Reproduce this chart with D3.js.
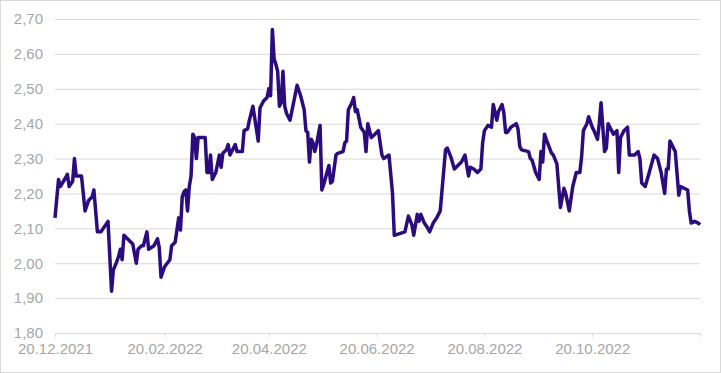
<!DOCTYPE html>
<html>
<head>
<meta charset="utf-8">
<script src="https://cdn.jsdelivr.net/npm/d3@7"></script>
<style>
  body { margin: 0; background: #fff; }
  svg text { font-family: 'Liberation Sans', Arial, sans-serif; font-size: 15px; fill: #a6a6a6; }
</style>
</head>
<body>
<svg class="linechart" width="721" height="373"></svg>
<script>
// data
var dates = [
  '2021-12-20', '2021-12-22', '2021-12-23', '2021-12-26', '2021-12-27', '2021-12-28', '2021-12-30', '2021-12-31',
  '2022-01-01', '2022-01-04', '2022-01-06', '2022-01-08', '2022-01-10', '2022-01-11', '2022-01-13', '2022-01-15',
  '2022-01-19', '2022-01-21', '2022-01-22', '2022-01-24', '2022-01-25', '2022-01-26', '2022-01-27', '2022-01-28',
  '2022-01-30', '2022-02-01', '2022-02-02', '2022-02-04', '2022-02-05', '2022-02-07', '2022-02-08', '2022-02-09',
  '2022-02-10', '2022-02-11', '2022-02-14', '2022-02-16', '2022-02-17', '2022-02-18', '2022-02-20', '2022-02-23',
  '2022-02-24', '2022-02-26', '2022-02-28', '2022-03-01', '2022-03-02', '2022-03-03', '2022-03-04', '2022-03-05',
  '2022-03-06', '2022-03-07', '2022-03-08', '2022-03-09', '2022-03-10', '2022-03-11', '2022-03-15', '2022-03-16',
  '2022-03-17', '2022-03-18', '2022-03-19', '2022-03-21', '2022-03-23', '2022-03-24', '2022-03-25', '2022-03-27',
  '2022-03-28', '2022-03-29', '2022-03-31', '2022-04-01', '2022-04-02', '2022-04-05', '2022-04-06', '2022-04-08',
  '2022-04-09', '2022-04-11', '2022-04-14', '2022-04-15', '2022-04-16', '2022-04-17', '2022-04-19', '2022-04-20',
  '2022-04-21', '2022-04-22', '2022-04-23', '2022-04-24', '2022-04-25', '2022-04-26', '2022-04-27', '2022-04-28',
  '2022-04-29', '2022-04-30', '2022-05-02', '2022-05-06', '2022-05-08', '2022-05-10', '2022-05-11', '2022-05-12',
  '2022-05-13', '2022-05-14', '2022-05-15', '2022-05-16', '2022-05-17', '2022-05-19', '2022-05-20', '2022-05-21',
  '2022-05-24', '2022-05-25', '2022-05-26', '2022-05-28', '2022-05-29', '2022-06-01', '2022-06-02', '2022-06-03',
  '2022-06-04', '2022-06-06', '2022-06-07', '2022-06-08', '2022-06-09', '2022-06-11', '2022-06-13', '2022-06-14',
  '2022-06-15', '2022-06-17', '2022-06-19', '2022-06-21', '2022-06-23', '2022-06-24', '2022-06-27', '2022-06-29',
  '2022-06-30', '2022-07-03', '2022-07-06', '2022-07-08', '2022-07-10', '2022-07-11', '2022-07-13', '2022-07-14',
  '2022-07-15', '2022-07-17', '2022-07-19', '2022-07-20', '2022-07-22', '2022-07-24', '2022-07-26', '2022-07-29',
  '2022-07-30', '2022-08-01', '2022-08-03', '2022-08-05', '2022-08-07', '2022-08-09', '2022-08-11', '2022-08-12',
  '2022-08-14', '2022-08-16', '2022-08-18', '2022-08-19', '2022-08-20', '2022-08-22', '2022-08-24', '2022-08-25',
  '2022-08-27', '2022-08-28', '2022-08-30', '2022-08-31', '2022-09-01', '2022-09-02', '2022-09-04', '2022-09-07',
  '2022-09-08', '2022-09-09', '2022-09-10', '2022-09-14', '2022-09-15', '2022-09-16', '2022-09-18', '2022-09-20',
  '2022-09-21', '2022-09-22', '2022-09-23', '2022-09-24', '2022-09-27', '2022-09-28', '2022-09-30', '2022-10-02',
  '2022-10-04', '2022-10-05', '2022-10-07', '2022-10-09', '2022-10-11', '2022-10-13', '2022-10-14', '2022-10-15',
  '2022-10-17', '2022-10-18', '2022-10-20', '2022-10-21', '2022-10-23', '2022-10-24', '2022-10-25', '2022-10-26',
  '2022-10-27', '2022-10-28', '2022-10-29', '2022-10-31', '2022-11-01', '2022-11-03', '2022-11-04', '2022-11-05',
  '2022-11-07', '2022-11-09', '2022-11-10', '2022-11-13', '2022-11-15', '2022-11-16', '2022-11-17', '2022-11-19',
  '2022-11-21', '2022-11-24', '2022-11-26', '2022-11-28', '2022-11-30', '2022-12-01', '2022-12-02', '2022-12-03',
  '2022-12-05', '2022-12-06', '2022-12-08', '2022-12-09', '2022-12-11', '2022-12-13', '2022-12-14', '2022-12-15',
  '2022-12-17', '2022-12-19', '2022-12-20'
]

var values = [
  2.13, 2.24, 2.22, 2.245, 2.255, 2.22, 2.235, 2.30,
  2.25, 2.25, 2.15, 2.18, 2.19, 2.21, 2.09, 2.09,
  2.12, 1.92, 1.98, 2.005, 2.02, 2.04, 2.01, 2.08,
  2.07, 2.06, 2.055, 2.00, 2.04, 2.05, 2.05, 2.07,
  2.09, 2.04, 2.05, 2.07, 2.045, 1.96, 1.99, 2.01,
  2.05, 2.06, 2.13, 2.095, 2.19, 2.205, 2.21, 2.15,
  2.22, 2.25, 2.37, 2.36, 2.30, 2.36, 2.36, 2.26,
  2.26, 2.31, 2.24, 2.26, 2.31, 2.275, 2.315, 2.325,
  2.34, 2.31, 2.33, 2.34, 2.32, 2.32, 2.38, 2.385,
  2.41, 2.45, 2.35, 2.445, 2.455, 2.465, 2.475, 2.50,
  2.48, 2.67, 2.585, 2.57, 2.55, 2.45, 2.46, 2.55,
  2.45, 2.43, 2.41, 2.51, 2.48, 2.44, 2.38, 2.375,
  2.29, 2.355, 2.345, 2.32, 2.34, 2.395, 2.21, 2.225,
  2.28, 2.23, 2.235, 2.31, 2.315, 2.32, 2.345, 2.35,
  2.44, 2.46, 2.475, 2.435, 2.44, 2.39, 2.375, 2.32,
  2.40, 2.36, 2.37, 2.38, 2.31, 2.30, 2.31, 2.20,
  2.08, 2.085, 2.09, 2.135, 2.11, 2.08, 2.14, 2.12,
  2.14, 2.115, 2.10, 2.09, 2.115, 2.13, 2.15, 2.325,
  2.33, 2.305, 2.27, 2.28, 2.29, 2.31, 2.25, 2.275,
  2.27, 2.26, 2.27, 2.345, 2.38, 2.395, 2.39, 2.455,
  2.41, 2.435, 2.455, 2.43, 2.375, 2.375, 2.39, 2.40,
  2.385, 2.335, 2.325, 2.32, 2.30, 2.295, 2.26, 2.24,
  2.32, 2.29, 2.37, 2.355, 2.315, 2.31, 2.285, 2.16,
  2.215, 2.20, 2.15, 2.22, 2.26, 2.26, 2.305, 2.38,
  2.40, 2.42, 2.39, 2.38, 2.355, 2.40, 2.46, 2.39,
  2.32, 2.33, 2.40, 2.38, 2.37, 2.38, 2.26, 2.36,
  2.38, 2.39, 2.31, 2.31, 2.32, 2.30, 2.23, 2.22,
  2.255, 2.31, 2.30, 2.26, 2.20, 2.27, 2.27, 2.35,
  2.33, 2.32, 2.195, 2.22, 2.215, 2.21, 2.15, 2.115,
  2.12, 2.115, 2.11
]

var yTicks = [1.8, 1.9, 2.0, 2.1, 2.2, 2.3, 2.4, 2.5, 2.6, 2.7]
var xTicks = ['2021-12-20', '2022-02-20', '2022-04-20', '2022-06-20', '2022-08-20', '2022-10-20', '2022-12-20']

var parseDate = d3.timeParse('%Y-%m-%d')
var formatDate = d3.timeFormat('%d.%m.%Y')
var formatValue = function(v) {
  return v.toFixed(2).replace('.', ',')
}

var data = dates.map(function(d, i) {
  return { date: parseDate(d), value: values[i] }
})

const svg = d3.select('.linechart')
const plotLeft = 55
const plotRight = 700
const plotTop = 19
const plotBottom = 333

// outer frame
svg
  .append('rect')
  .attr('x', 0.5)
  .attr('y', 0.5)
  .attr('width', 720)
  .attr('height', 372)
  .attr('fill', '#fff')
  .attr('stroke', '#d9d9d9')

const xScale = d3
  .scaleTime()
  .domain([parseDate(xTicks[0]), parseDate(xTicks[xTicks.length - 1])])
  .range([plotLeft, plotRight])

const yScale = d3
  .scaleLinear()
  .domain([1.8, 2.7])
  .range([plotBottom, plotTop])

//horizontal lines + labels
svg
  .append('g')
  .attr('class', 'grid')
  .attr('transform', `translate(${plotLeft}, 0)`)
  .call(
    d3
      .axisLeft(yScale)
      .tickValues(yTicks)
      .tickSize(-(plotRight - plotLeft))
      .tickPadding(12)
      .tickFormat(formatValue)
  )
  .call(g => g.select('.domain').remove())
  .call(g => g.selectAll('line').attr('stroke', '#d9d9d9'))

// x axis
svg
  .append('g')
  .attr('transform', `translate(0, ${plotBottom})`)
  .call(
    d3
      .axisBottom(xScale)
      .tickValues(xTicks.map(parseDate))
      .tickSize(4)
      .tickPadding(6)
      .tickFormat(function(d, i) {
        return i === xTicks.length - 1 ? '' : formatDate(d)
      })
  )
  .call(g => g.select('.domain').attr('stroke', '#d9d9d9').attr('d', `M${plotLeft},0.5H${plotRight}`))
  .call(g => g.selectAll('.tick line').attr('stroke', '#d9d9d9'))

svg.selectAll('.tick text').attr('fill', '#a6a6a6').style('font-size', '15px')

// the line
var line = d3
  .line()
  .x(d => xScale(d.date))
  .y(d => yScale(d.value))

svg
  .append('path')
  .datum(data)
  .attr('d', line)
  .attr('fill', 'none')
  .attr('stroke', '#2b0b7e')
  .attr('stroke-width', 3.5)
  .attr('stroke-linejoin', 'round')
</script>
</body>
</html>
